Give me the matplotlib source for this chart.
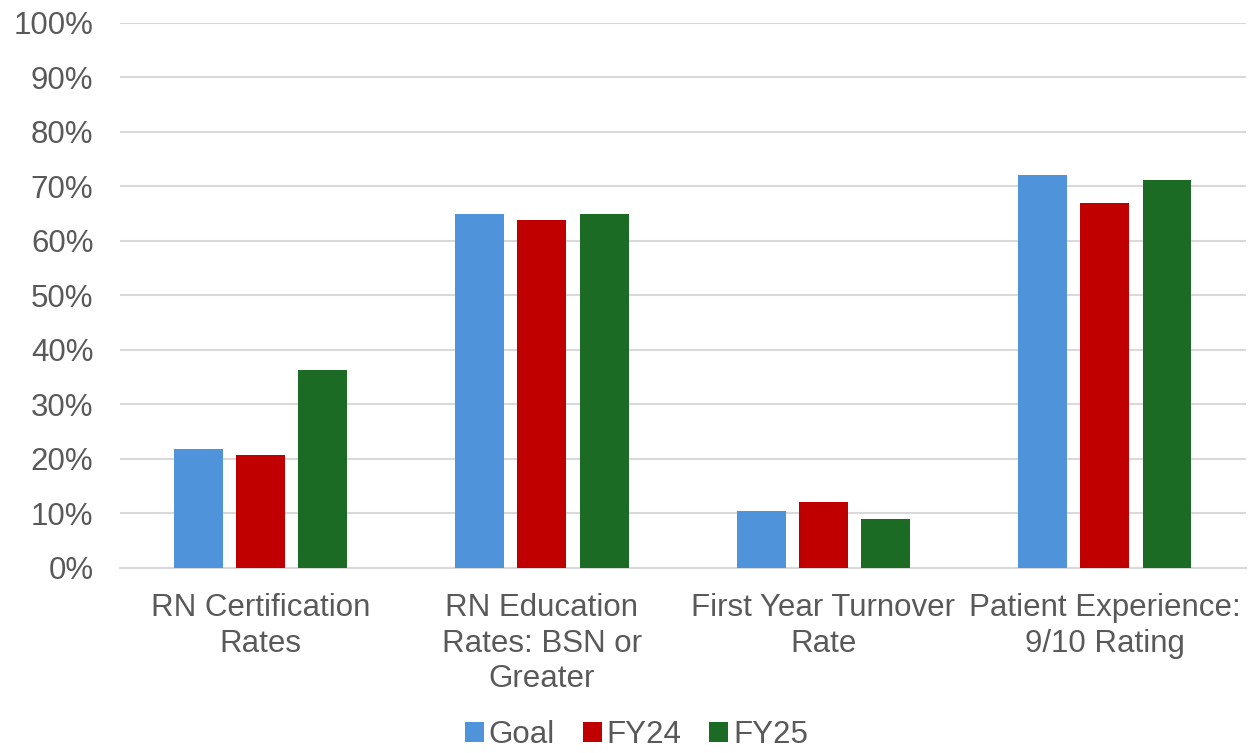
import numpy as np
import matplotlib.pyplot as plt
from matplotlib.ticker import PercentFormatter

categories = ['RN Certification\nRates', 'RN Education\nRates: BSN or\nGreater',
              'First Year Turnover\nRate', 'Patient Experience:\n9/10 Rating']
goal = [21.7, 64.9, 10.4, 72.0]
fy24 = [20.7, 63.9, 12.0, 67.0]
fy25 = [36.2, 65.0, 9.0, 71.2]

plt.rcParams['font.family'] = ['Liberation Sans', 'DejaVu Sans']

fig = plt.figure(figsize=(12.48, 7.53), dpi=100)
ax = fig.add_axes([0.096, 0.2463, 0.902, 0.7232])

x = np.arange(len(categories))
w = 0.174
step = 0.221
ax.bar(x - step, goal, w, color='#4F94DA', label='Goal', zorder=3)
ax.bar(x, fy24, w, color='#C00000', label='FY24', zorder=3)
ax.bar(x + step, fy25, w, color='#1B6B25', label='FY25', zorder=3)

ax.set_xlim(-0.5, 3.5)
ax.set_ylim(0, 100)
ax.set_yticks(range(0, 101, 10))
ax.yaxis.set_major_formatter(PercentFormatter(decimals=0))
ax.set_xticks(x)
ax.set_xticklabels(categories, linespacing=1.26)
ax.tick_params(axis='both', length=0, labelsize=22.5, labelcolor='#595959')
ax.tick_params(axis='x', pad=18)
ax.tick_params(axis='y', pad=19)
ax.grid(axis='y', color='#D9D9D9', linewidth=1.5, zorder=0)
for s in ['top', 'right', 'left']:
    ax.spines[s].set_visible(False)
ax.spines['bottom'].set_color('#D9D9D9')
ax.spines['bottom'].set_linewidth(1.5)

leg = fig.legend(loc='lower center', bbox_to_anchor=(0.51, -0.033), ncol=3, frameon=False,
                 fontsize=22.5, handlelength=0.6, handleheight=0.6, handletextpad=0.15,
                 columnspacing=0.9, labelcolor='#595959')

fig.savefig('out.png', dpi=100)
